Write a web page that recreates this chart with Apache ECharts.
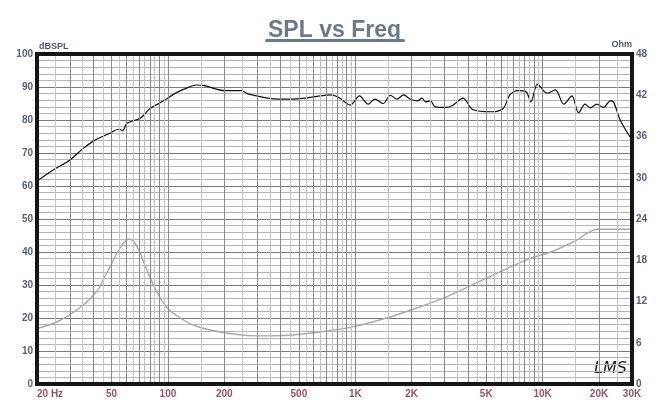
<!DOCTYPE html>
<html>
<head>
<meta charset="utf-8">
<script src="https://cdn.jsdelivr.net/npm/echarts@6/dist/echarts.min.js"></script>
<style>html,body{margin:0;padding:0;background:#fff;}#c{width:669px;height:413px;}</style>
</head>
<body>
<div id="c"></div>
<script>
// SPL curve (Hz, dBSPL)
const splFreq = [20,24.3,30,35.3,40.8,49,54.5,57.4,60.4,71,75.8,80.2,94.7,111,125,142,157,201,247,267,389,488,649,733,813,940,1053,1170,1272,1410,1540,1670,1810,1970,2140,2270,2370,2520,2670,3070,3320,3760,4230,5360,6160,6680,7380,8150,8660,9390,10580,11700,12970,14330,15550,16870,17950,19480,21150,22950,23900,25950,29190,30000];
const splDb = [61.5,64.8,67.9,71.4,73.9,76,77.2,76.8,79,80.5,82,83.5,85.8,88.3,89.6,90.6,90.4,88.9,88.9,87.9,86.3,86.4,87.3,87.6,86.9,84.5,87.3,84.8,86.3,85,87.5,86.3,87.6,86.3,85.8,86.6,85.5,85.8,84,83.8,84.5,86.6,83.2,82.5,83.5,87.6,88.9,88.6,85.5,90.9,88.1,89.1,84.8,87.3,82.2,84.8,83.7,84.8,83.8,85.8,85.5,80,75,74.5];
// Impedance curve (Hz, Ohm)
const impFreq = [20,24.4,29.3,35.3,40,43,46,49,52,55,58,61.6,65.3,68,71,75,78.6,83,87.3,93,100.5,116,142,197,298,449,708,968,1467,2000,2950,4060,5800,8660,11100,14670,19640,30000];
const impOhm = [8.1,8.8,9.9,11.5,12.9,14.0,15.6,17.0,18.4,19.6,20.5,21.1,20.8,20.1,19.1,17.4,16.1,14.6,13.4,12.1,10.9,9.6,8.4,7.5,7.0,7.1,7.7,8.3,9.6,10.8,12.5,14.2,16.2,18.3,19.2,20.7,22.5,22.5];
// Axis tick labels
const xLabelValues = [20,50,100,200,500,1000,2000,5000,10000,20000,30000];
const xLabelTexts = ['20 Hz','50','100','200','500','1K','2K','5K','10K','20K','30K'];
// Vertical grid line mantissas
const gridMajorMant = [1,2,3,4,5,6,7,8,9];
const gridMinorMant = [1.5,2.5,3.5,4.5,5.5,6.5,7.5,8.5,9.5];

function gridValues(mants){
  const out=[];
  [10,100,1000,10000].forEach(d=>mants.forEach(m=>{const v=m*d; if(v>20&&v<30000) out.push({xAxis:v});}));
  return out;
}

const chart = echarts.init(document.getElementById('c'));
const font = 'Liberation Sans, Arial, sans-serif';
chart.setOption({
  animation:false,
  backgroundColor:'#fff',
  title:{text:'SPL vs Freq',left:'center',top:14,textStyle:{fontFamily:font,fontSize:23,fontWeight:'bold',color:'#6b7a8b'}},
  graphic:[
    {type:'rect',shape:{x:265,y:39,width:140,height:3,r:1.5},style:{fill:'#6b7a8b'}},
    {type:'text',left:594,top:361,style:{text:'LMS',font:'italic 16px "DejaVu Sans", sans-serif',fill:'#222'}}
  ],
  grid:{left:37,right:37,top:54,bottom:29,show:true,borderColor:'#151515',borderWidth:4,z:10},
  xAxis:{type:'log',logBase:10,min:20,max:30000,
    axisLine:{show:false},axisTick:{show:false},splitLine:{show:false},
    axisLabel:{customValues:xLabelValues,margin:5,fontFamily:font,fontSize:10,fontWeight:'bold',color:'#9a5066',alignMinLabel:'left',
      formatter:v=>{const i=xLabelValues.findIndex(x=>Math.abs(x-v)/x<1e-6);return i>=0?xLabelTexts[i]:'';}}},
  yAxis:[
    {type:'value',min:0,max:100,interval:10,name:'dBSPL',nameLocation:'end',nameGap:3,
      nameTextStyle:{align:'left',color:'#4b5872',fontSize:9,fontWeight:'bold',fontFamily:font,padding:[0,0,0,2]},
      axisLine:{show:false},axisTick:{show:false},
      axisLabel:{margin:4,fontFamily:font,fontSize:10,fontWeight:'bold',color:'#56627a'},
      splitLine:{lineStyle:{color:'#7a7a7a',width:1}},
      minorTick:{show:false,splitNumber:5},
      minorSplitLine:{show:true,lineStyle:{color:'#b5b5b5',width:1}}},
    {type:'value',min:0,max:48,interval:6,name:'Ohm',nameLocation:'end',nameGap:3,
      nameTextStyle:{align:'right',color:'#4b5872',fontSize:9,fontWeight:'bold',fontFamily:font},
      axisLine:{show:false},axisTick:{show:false},splitLine:{show:false},
      axisLabel:{margin:4,fontFamily:font,fontSize:10,fontWeight:'bold',color:'#56627a'}}
  ],
  series:[
    {type:'line',data:[],silent:true,z:1,
      markLine:{silent:true,symbol:'none',label:{show:false},animation:false,
        lineStyle:{color:'#8a8a8a',width:1,type:'solid'},data:gridValues(gridMajorMant)}},
    {type:'line',data:[],silent:true,z:1,
      markLine:{silent:true,symbol:'none',label:{show:false},animation:false,
        lineStyle:{color:'#c4c4c4',width:1,type:'solid'},data:gridValues(gridMinorMant)}},
    {name:'Impedance',type:'line',yAxisIndex:1,z:3,showSymbol:false,smooth:0.3,
      lineStyle:{color:'#a9a9a9',width:1.4},data:impFreq.map((f,i)=>[f,impOhm[i]])},
    {name:'SPL',type:'line',yAxisIndex:0,z:4,showSymbol:false,smooth:0.3,
      lineStyle:{color:'#111',width:1.2},data:splFreq.map((f,i)=>[f,splDb[i]])}
  ]
});
</script>
</body>
</html>
